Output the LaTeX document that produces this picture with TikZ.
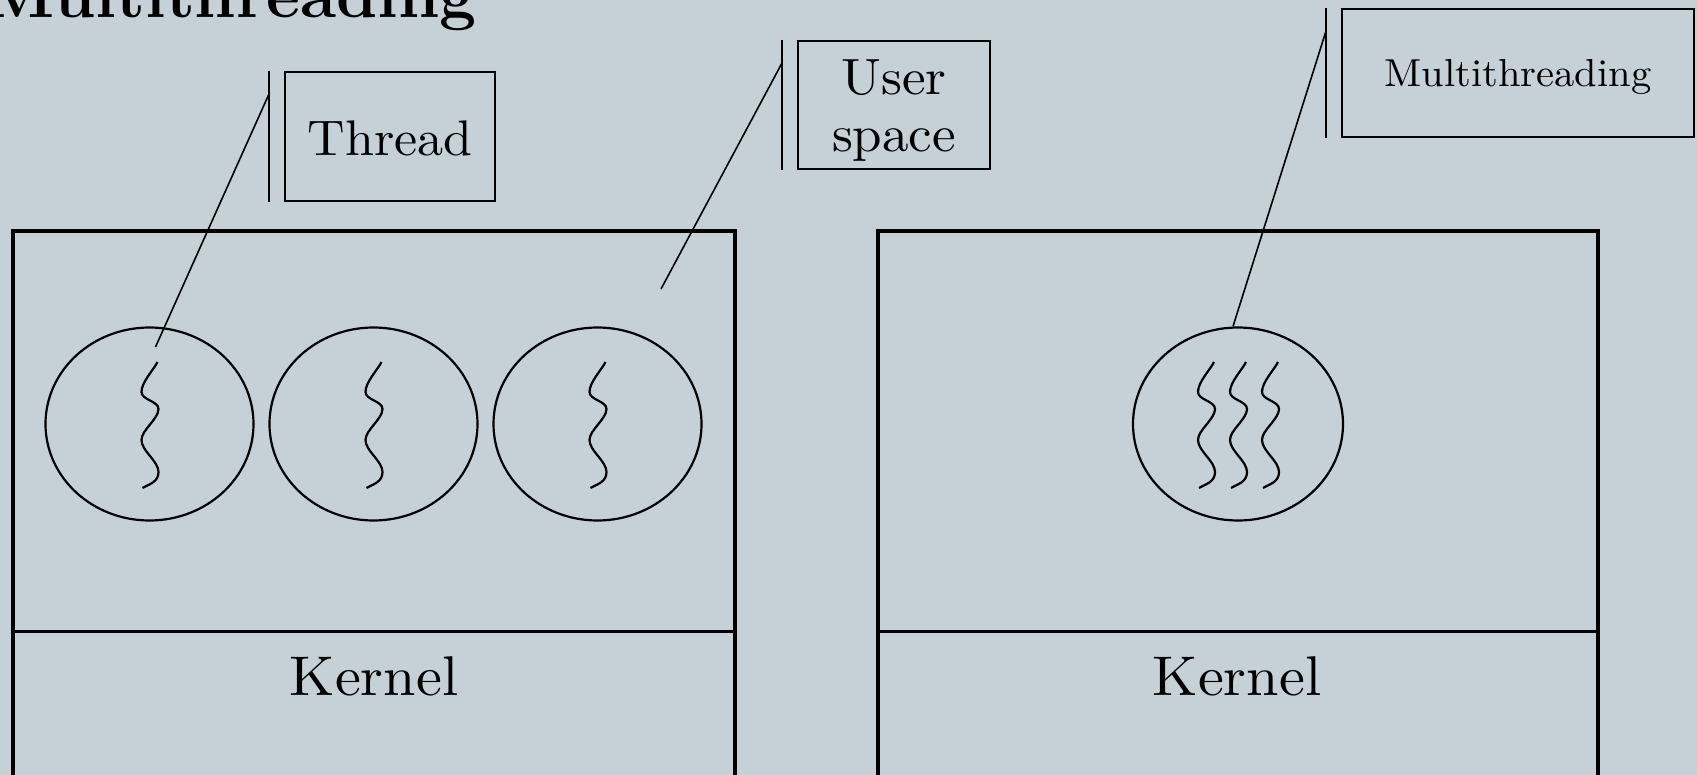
\documentclass[tikz,border=0pt]{standalone}
\usepackage{fontspec}
\usetikzlibrary{shapes.geometric}
\newfontfamily\labelfont{lmroman10-regular}[Extension=.otf, FakeStretch=1.04]
\definecolor{slate}{RGB}{197,209,215}
\tikzset{
  hostbox/.style={line width=4.6pt},
  divider/.style={line width=3pt},
  proc/.style={draw, ellipse, line width=2.2pt, inner sep=0pt,
    minimum width=208pt, minimum height=193pt},
  callout/.style={draw, line width=2pt, inner sep=0pt, align=center},
  caption/.style={inner sep=0pt, align=center},
  bar/.style={line width=2pt},
  leader/.style={line width=1.6pt},
  kern/.style={inner sep=0pt, font=\labelfont\fontsize{56}{60}\selectfont},
  squig/.style={line width=2.2pt},
  squiggle/.pic={
    \draw[squig] (8,-62) .. controls (4,-54) and (-8,-42) .. (-8,-32)
      .. controls (-8,-24) and (9,-23) .. (9,-15)
      .. controls (9,-5) and (-8,6) .. (-8,16)
      .. controls (-8,27) and (9,37) .. (9,48)
      .. controls (9,58) and (0,60) .. (-7,64);
  }
}
\begin{document}
\begin{tikzpicture}[x=1pt,y=-1pt]
\useasboundingbox (0,0) rectangle (1697,775);
\fill[slate] (0,0) rectangle (1697,775);
\clip (0,0) rectangle (1697,775);

% heading
\node[anchor=base east, inner sep=0pt, font=\fontsize{66}{70}\selectfont\bfseries]
  (title) at (477,18) {Multithreading};

% left host: three single-threaded processes
\draw[hostbox] (13,231) rectangle (735,800);
\draw[divider] (13,631) -- (735,631);
\node[kern] (k1) at (374,676) {Kernel};
\node[proc] (p1) at (149.5,424) {};
\node[proc] (p2) at (373.5,424) {};
\node[proc] (p3) at (597.5,424) {};
\pic at (p1.center) {squiggle};
\pic at (p2.center) {squiggle};
\pic at (p3.center) {squiggle};

% right host: one multithreaded process
\draw[hostbox] (878,231) rectangle (1598,800);
\draw[divider] (878,631) -- (1598,631);
\node[kern] (k2) at (1237,676) {Kernel};
\node[proc, minimum width=210pt] (p4) at (1238,424) {};
\pic at ([xshift=-32pt]p4.center) {squiggle};
\pic at (p4.center) {squiggle};
\pic at ([xshift=32pt]p4.center) {squiggle};

% callouts
\node[callout, minimum width=210pt, minimum height=129pt] (thr) at (390,136.5) {};
\node[caption, font=\labelfont\fontsize{50}{57}\selectfont] (thr-text) at (390,138) {Thread};
\node[callout, minimum width=192pt, minimum height=128pt] (usr) at (894,105) {};
\node[caption, font=\labelfont\fontsize{51}{57}\selectfont] (usr-text) at (894,111) {User\\space};
\node[callout, minimum width=352pt, minimum height=128pt] (mt) at (1518,73) {};
\node[caption, font=\labelfont\fontsize{39}{45}\selectfont] (mt-text) at (1518,77) {Multithreading};

\foreach \c in {thr,usr,mt}
  \draw[bar] ([xshift=-15pt]\c.north west) -- ([xshift=-15pt]\c.south west);

\coordinate (thr-tip) at (155.5,347);
\coordinate (usr-tip) at (661,289);
\draw[leader] ([xshift=-15pt,yshift=-23pt]thr.north west) -- (thr-tip);
\draw[leader] ([xshift=-15pt,yshift=-23pt]usr.north west) -- (usr-tip);
\draw[leader] ([xshift=-15pt,yshift=-23pt]mt.north west) -- ([xshift=-5pt]p4.north);
\end{tikzpicture}
\end{document}
